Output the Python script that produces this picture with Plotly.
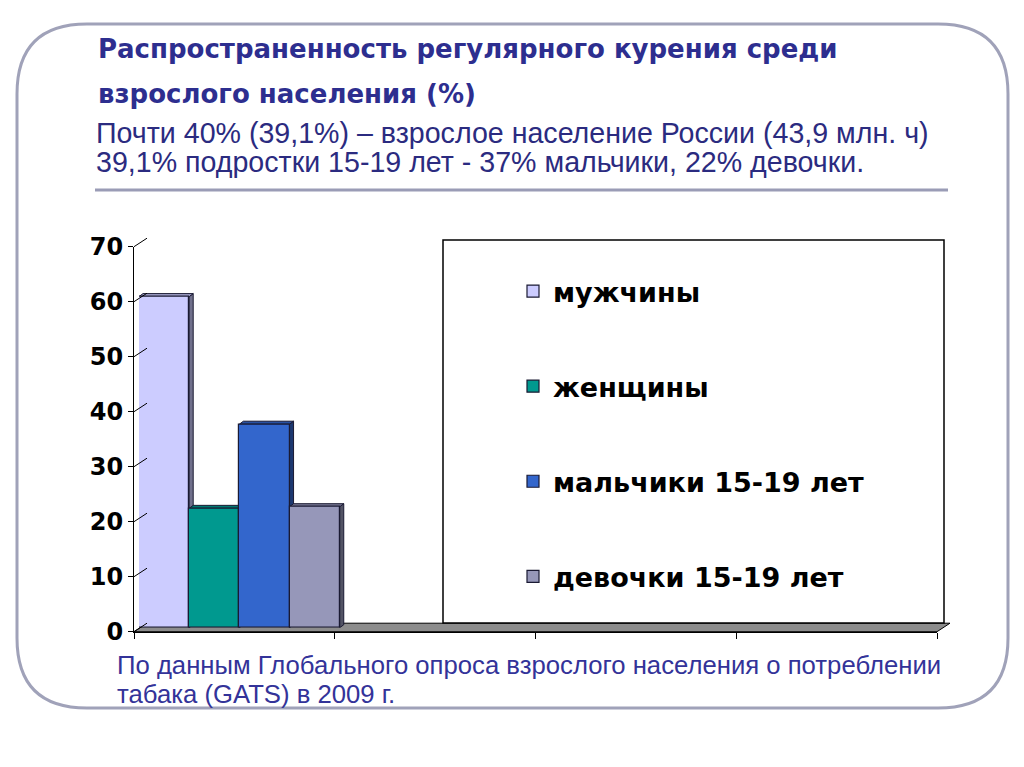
import plotly.graph_objects as go

# ---------------- data ----------------
series_names = ["мужчины", "женщины", "мальчики 15-19 лет", "девочки 15-19 лет"]
series_values = [60.2, 21.7, 37.0, 22.0]
series_colors = ["#CCCCFF", "#00998F", "#3366CC", "#9697B9"]
category = "2009"
y_ticks = [0, 10, 20, 30, 40, 50, 60, 70]

title_lines = ["Распространенность регулярного курения среди", "взрослого населения (%)"]
subtitle_lines = ["Почти 40% (39,1%) – взрослое население России (43,9 млн. ч)",
                  "39,1% подростки 15-19 лет - 37% мальчики, 22% девочки."]
footnote_lines = ["По данным Глобального опроса взрослого населения о потреблении",
                  "табака (GATS) в 2009 г."]

# ---------------- layout geometry (pixels) ----------------
W, H = 1024, 767
def px(x):
    return x / W
def py(y):
    return 1 - y / H

YMAX = 70
FRONT = dict(x0=134, x1=937, y0=631.7, y1=246.7)   # front plane (axes)
MID = dict(x0=139, x1=942, y0=627.7, y1=242.7)     # bars plane
BACK = dict(x0=147, x1=950, y0=623.2, y1=238.2)    # back wall
DEPTH_DX, DEPTH_DY = BACK["x0"] - FRONT["x0"], FRONT["y0"] - BACK["y0"]
BAR_DX_PX, BAR_DY_PX = 4, 3

def dom(p):
    return dict(x=[px(p["x0"]), px(p["x1"])], y=[py(p["y0"]), py(p["y1"])])

fig = go.Figure()

for name, val, col in zip(series_names, series_values, series_colors):
    fig.add_trace(go.Bar(
        x=[category], y=[val], name=name, legendgroup=name,
        marker=dict(color=col, line=dict(color="#1A1A33", width=1.2)),
        xaxis="x2", yaxis="y2", hoverinfo="skip",
    ))

def shade(hexcol, f):
    h = hexcol.lstrip("#")
    r, g, b = (int(h[i:i + 2], 16) for i in (0, 2, 4))
    return "#%02X%02X%02X" % (int(r * f), int(g * f), int(b * f))

shapes = []
# 3D faces of bars (in bar-axis data units)
n = len(series_values)
cat_px = (MID["x1"] - MID["x0"]) / 4.0
unit_px = (MID["y0"] - MID["y1"]) / YMAX
ddx = BAR_DX_PX / cat_px
ddy = BAR_DY_PX / unit_px
for i, (val, col) in enumerate(zip(series_values, series_colors)):
    x0 = -0.5 + i / n
    x1 = x0 + 1.0 / n
    shapes.append(dict(type="path", xref="x2", yref="y2", layer="below",
                       path=f"M{x1},0 L{x1+ddx},{ddy} L{x1+ddx},{val+ddy} L{x1},{val} Z",
                       fillcolor=shade(col, 0.55), line=dict(color="#1A1A33", width=1)))
    shapes.append(dict(type="path", xref="x2", yref="y2", layer="below",
                       path=f"M{x0},{val} L{x0+ddx},{val+ddy} L{x1+ddx},{val+ddy} L{x1},{val} Z",
                       fillcolor=shade(col, 0.8), line=dict(color="#1A1A33", width=1)))

# floor
shapes.append(dict(type="path", xref="paper", yref="paper", layer="below",
                   path=(f"M{px(FRONT['x0'])},{py(FRONT['y0'])} L{px(FRONT['x1'])},{py(FRONT['y0'])} "
                         f"L{px(BACK['x1'])},{py(BACK['y0'])} L{px(BACK['x0'])},{py(BACK['y0'])} Z"),
                   fillcolor="#8C8C8C", line=dict(color="#000000", width=1)))

# left wall diagonals at tick values
for v in y_ticks:
    if v < YMAX:
        shapes.append(dict(type="line", xref="x3 domain", yref="y3", xsizemode="pixel", ysizemode="pixel",
                           xanchor=0, yanchor=v, x0=0, y0=0, x1=DEPTH_DX, y1=DEPTH_DY,
                           line=dict(color="#000000", width=1)))
    else:
        shapes.append(dict(type="line", xref="x3 domain", yref="y3 domain", xsizemode="pixel", ysizemode="pixel",
                           xanchor=0, yanchor=1, x0=0, y0=0, x1=DEPTH_DX, y1=DEPTH_DY,
                           line=dict(color="#000000", width=1)))

# legend box
shapes.append(dict(type="rect", xref="paper", yref="paper", layer="above",
                   x0=px(443), x1=px(944), y0=py(623), y1=py(240),
                   fillcolor="#FFFFFF", line=dict(color="#000000", width=1.5)))

# separator line
shapes.append(dict(type="line", xref="paper", yref="paper",
                   x0=px(95), x1=px(948), y0=py(190), y1=py(190),
                   line=dict(color="#9A9CB6", width=3)))

# rounded slide border
L, R, T, B, r = 17, 1008, 24, 708, 70
border = (f"M{px(L+r)},{py(T)} L{px(R-r)},{py(T)} Q{px(R)},{py(T)} {px(R)},{py(T+r)} "
          f"L{px(R)},{py(B-r)} Q{px(R)},{py(B)} {px(R-r)},{py(B)} "
          f"L{px(L+r)},{py(B)} Q{px(L)},{py(B)} {px(L)},{py(B-r)} "
          f"L{px(L)},{py(T+r)} Q{px(L)},{py(T)} {px(L+r)},{py(T)} Z")
shapes.append(dict(type="path", xref="paper", yref="paper", path=border,
                   line=dict(color="#A0A2B9", width=3)))

annotations = []
title_font = dict(family="DejaVu Sans", size=26, color="#2D2E8F", weight="bold")
for txt, yy in zip(title_lines, [49, 94]):
    annotations.append(dict(text=txt, x=px(96), y=py(yy), xref="paper", yref="paper",
                            xanchor="left", yanchor="middle", showarrow=False, font=title_font))
sub_font = dict(family="Liberation Sans", size=28.6, color="#2B2B80")
for txt, yy in zip(subtitle_lines, [133, 162]):
    annotations.append(dict(text=txt, x=px(94), y=py(yy), xref="paper", yref="paper",
                            xanchor="left", yanchor="middle", showarrow=False, font=sub_font))
foot_font = dict(family="Liberation Sans", size=25.7, color="#333399")
for txt, yy in zip(footnote_lines, [665, 694]):
    annotations.append(dict(text=txt, x=px(115), y=py(yy), xref="paper", yref="paper",
                            xanchor="left", yanchor="middle", showarrow=False, font=foot_font))

bd, md, fd = dom(BACK), dom(MID), dom(FRONT)
hidden = dict(visible=False, fixedrange=True, automargin=False)

fig.update_layout(
    width=W, height=H, autosize=False,
    margin=dict(l=0, r=0, t=0, b=0, pad=0, autoexpand=False),
    paper_bgcolor="#FFFFFF", plot_bgcolor="rgba(0,0,0,0)",
    barmode="group", bargap=0, bargroupgap=0,
    showlegend=True,
    legend=dict(x=px(513), y=py(267), xanchor="left", yanchor="top",
                bgcolor="rgba(0,0,0,0)", borderwidth=0,
                traceorder="grouped", tracegroupgap=57,
                font=dict(family="DejaVu Sans", size=27, color="#000000", weight="bold")),
    # back wall
    xaxis=dict(domain=bd["x"], anchor="y", range=[0, 1], showgrid=False, zeroline=False,
               showticklabels=False, ticks="", showline=True, mirror=True, linecolor="#000000",
               linewidth=1, fixedrange=True, automargin=False),
    yaxis=dict(domain=bd["y"], anchor="x", range=[0, YMAX], tickvals=y_ticks, showgrid=True,
               gridcolor="#000000", gridwidth=1, zeroline=False, showticklabels=False, ticks="",
               showline=True, mirror=True, linecolor="#000000", linewidth=1, fixedrange=True,
               automargin=False),
    # bars
    xaxis2=dict(domain=md["x"], anchor="y2", type="category", range=[-0.5, 3.5], **hidden),
    yaxis2=dict(domain=md["y"], anchor="x2", range=[0, YMAX], **hidden),
    # front axes
    xaxis3=dict(domain=fd["x"], anchor="y3", range=[0, 4], tickvals=[0, 1, 2, 3, 4],
                ticks="outside", ticklen=6, tickcolor="#000000", showticklabels=False,
                showgrid=False, zeroline=False, showline=True, linecolor="#000000",
                linewidth=1, fixedrange=True, automargin=False),
    yaxis3=dict(domain=fd["y"], anchor="x3", range=[0, YMAX], tickvals=y_ticks,
                ticks="outside", ticklen=5, tickcolor="#000000", showgrid=False, zeroline=False,
                showline=True, linecolor="#000000", linewidth=1,
                tickfont=dict(family="DejaVu Sans", size=24, color="#000000", weight="bold"),
                fixedrange=True, automargin=False),
    shapes=shapes,
    annotations=annotations,
)

fig.write_html("out.html", config={"displayModeBar": False})
